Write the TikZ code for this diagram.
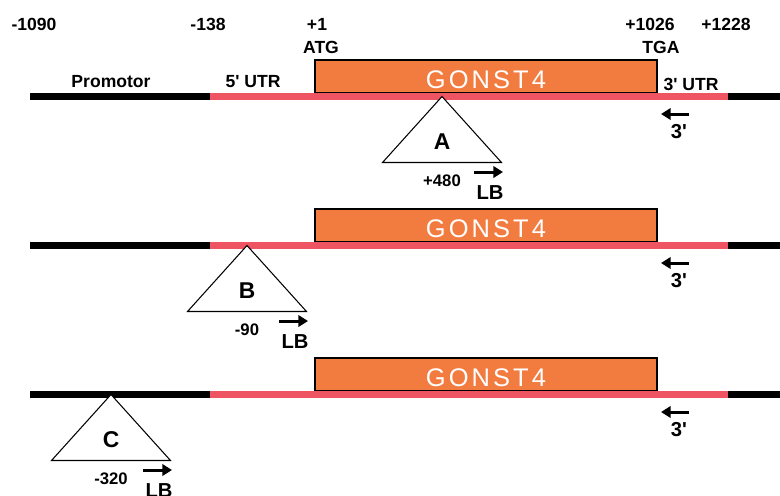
\documentclass[tikz,border=0pt]{standalone}
\usepackage{fontspec}
\setmainfont{Liberation Sans}
\usetikzlibrary{arrows.meta}
\tikzset{
	num/.style={font=\bfseries\fontsize{10}{12}\selectfont, inner sep=0, anchor=base},
	dna/.style={line width=4pt},
	genebox/.style={draw=black, line width=1.6pt, fill=sorange, minimum width=6.84cm, minimum height=0.66cm, inner sep=0},
	genelbl/.style={text=white, inner sep=0, font=\fontsize{14.5}{17}\selectfont\addfontfeature{LetterSpace=12}},
	insert/.style={draw=black, line width=0.6pt, fill=white},
	inslbl/.style={font=\bfseries\fontsize{13}{15}\selectfont, inner sep=0},
	poslbl/.style={font=\bfseries\fontsize{9.5}{11}\selectfont, inner sep=0},
	primlbl/.style={font=\bfseries\fontsize{11.5}{13}\selectfont, inner sep=0},
	primer/.style={-{Triangle[length=5.5pt,width=6.5pt]}, line width=1.7pt},
}
\begin{document}
\begin{tikzpicture}[x=0.02cm, y=-0.02cm]
		\definecolor{sorange}{HTML}{F27B3F}
		\definecolor{sred}{HTML}{EE5462}
		\useasboundingbox (0,0) rectangle (780,495);
		% positions above the first row
		\node (m1090) at (34,30) [num] {-1090};
		\node (m138) at (208,30) [num] {-138};
		\node (p1) at (317,30) [num] {+1};
		\node (atg) at (321,53) [num] {ATG};
		\node (p1026) at (650,30) [num] {+1026};
		\node (tga) at (661,53) [num] {TGA};
		\node (p1228) at (726,30) [num] {+1228};
		\node (prom) at (111,87.5) [num] {Promotor};
		\node (utr5) at (253,87.5) [num] {5\textquotesingle\ UTR};
		\node (utr3) at (691,90.5) [num] {3\textquotesingle\ UTR};
		% three copies of the gene
		\foreach \r/\dy in {1/0,2/149,3/298} {
			\node (gene\r) at (486,76.5+\dy) [genebox] {};
			\node (name\r) at (486,79.5+\dy) [genelbl] {GONST4};
			\draw[dna, black] (30,96.5+\dy) -- (210,96.5+\dy);
			\draw[dna, sred] (210,96.5+\dy) -- (728,96.5+\dy);
			\draw[dna, black] (728,96.5+\dy) -- (780,96.5+\dy);
			\coordinate (rs\r) at (689,114+\dy);
			\coordinate (re\r) at (661,114+\dy);
			\draw[primer] (rs\r) -- (re\r);
			\node (rev\r) at (679,132+\dy) [primlbl] {3\textquotesingle};
		}
		% insertions
		\foreach \n/\ax/\ay/\pos in {A/442/96.5/+480, B/247/245.5/-90, C/111/394.5/-320} {
			\draw[insert] (\ax,\ay) -- (\ax-59.5,\ay+66) -- (\ax+59.5,\ay+66) -- cycle;
			\node (ins\n) at (\ax,\ay+45) [inslbl] {\n};
			\node (pos\n) at (\ax,\ay+84) [poslbl] {\pos};
			\coordinate (ls\n) at (\ax+32,\ay+75.5);
			\coordinate (le\n) at (\ax+61,\ay+75.5);
			\draw[primer] (ls\n) -- (le\n);
			\node (lb\n) at (\ax+48,\ay+96) [primlbl] {LB};
		}
\end{tikzpicture}
\end{document}
